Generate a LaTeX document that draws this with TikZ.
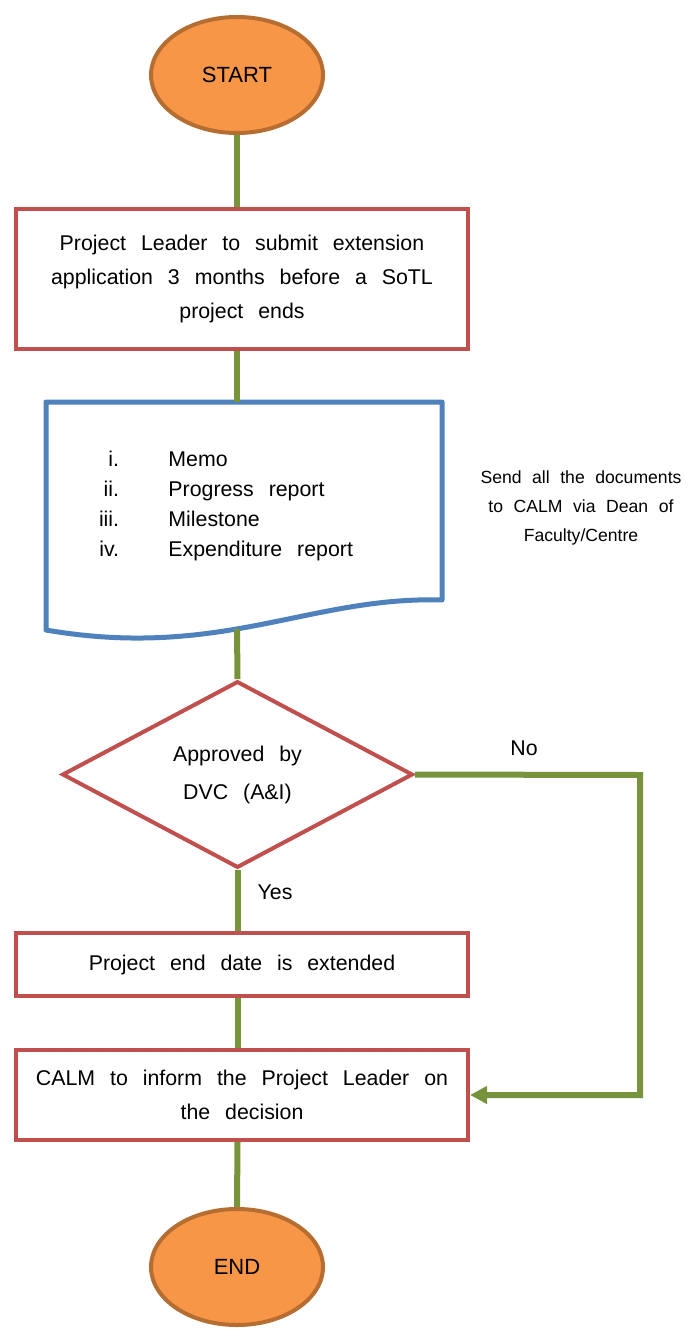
\documentclass[tikz,border=0pt]{standalone}
\usepackage{fontspec}
\setmainfont{Liberation Sans}
\usetikzlibrary{shapes.geometric,arrows.meta}

\definecolor{boxred}{HTML}{C0504D}
\definecolor{linkgreen}{HTML}{77933C}
\definecolor{docblue}{HTML}{4F81BD}
\definecolor{termfill}{HTML}{F79646}
\definecolor{termline}{HTML}{B66D31}

\newcommand{\widesp}[1]{\spaceskip #1\relax}

\begin{document}
\begin{tikzpicture}[x=0.75pt,y=-0.75pt]
        \tikzstyle{terminal}=[ellipse, draw=termline, line width=3pt, fill=termfill, minimum width=129pt, minimum height=87pt, font=\fontsize{16.5}{20}\selectfont]
        \tikzstyle{process}=[rectangle, draw=boxred, line width=3pt, minimum width=339pt, align=center, font=\fontsize{16}{25.5}\selectfont\widesp{0.7em}]
        \tikzstyle{decision}=[diamond, draw=boxred, line width=3pt, minimum width=263pt, minimum height=137pt, inner sep=0pt, align=center, font=\fontsize{16}{28.5}\selectfont\widesp{0.7em}]
        \tikzstyle{link}=[draw=linkgreen, line width=4.5pt]
        \tikzstyle{label}=[font=\fontsize{16}{18}\selectfont]
        \tikzstyle{note}=[align=center, font=\fontsize{13.2}{21.75}\selectfont\widesp{0.6em}]

        \useasboundingbox (0,0) rectangle (688,1330);

        \node[terminal] (start) at (237,75) {START};
        \node[process, minimum height=105pt] (submit) at (242,279)
            {Project Leader to submit extension\\application 3 months before a SoTL\\project ends};

        % document shape
        \coordinate (doctop) at (237,402);
        \coordinate (docbottom) at (237,629);
        \draw[draw=docblue, line width=3.75pt, line join=round]
            (46,402) -- (442,402) -- (442,600)
            .. controls (310,596) and (220,660) .. (46,630) -- cycle;
        \node[font=\fontsize{16}{22.5}\selectfont\widesp{0.7em}] (doclist) at (226,505)
            {\begin{tabular}{@{}r@{\hspace{37pt}}l@{}}
                i. & Memo\\
                ii. & Progress report\\
                iii. & Milestone\\
                iv. & Expenditure report
            \end{tabular}};
        \node[note] (sendnote) at (581,508)
            {Send all the documents\\to CALM via Dean of\\Faculty/Centre};

        \node[decision] (check) at (237.5,774.5) {Approved by\\DVC (A\&I)};
        \node[process, minimum height=47.25pt] (extend) at (242,964.5) {Project end date is extended};
        \node[process, minimum height=67.5pt] (inform) at (242,1095)
            {CALM to inform the Project Leader on\\the decision};
        \node[terminal] (end) at (237,1267) {END};

        \node[label] (no) at (524,748) {No};
        \node[label] (yes) at (275,892) {Yes};
        \coordinate (noturn) at (640,775);

        \draw[link] (start.south) -- (start.south |- submit.north);
        \draw[link] (submit.south -| start) -- (doctop);
        \draw[link] (docbottom) -- (check.north);
        \draw[link] (check.south) -- (check.south |- extend.north);
        \draw[link] (extend.south -| check) -- (inform.north -| check);
        \draw[link] (inform.south -| check) -- (end.north);
        \draw[link, -{Triangle[length=12.75pt, width=12.75pt]}]
            (check.east) -- (noturn) |- (inform.east);
    \end{tikzpicture}
\end{document}
